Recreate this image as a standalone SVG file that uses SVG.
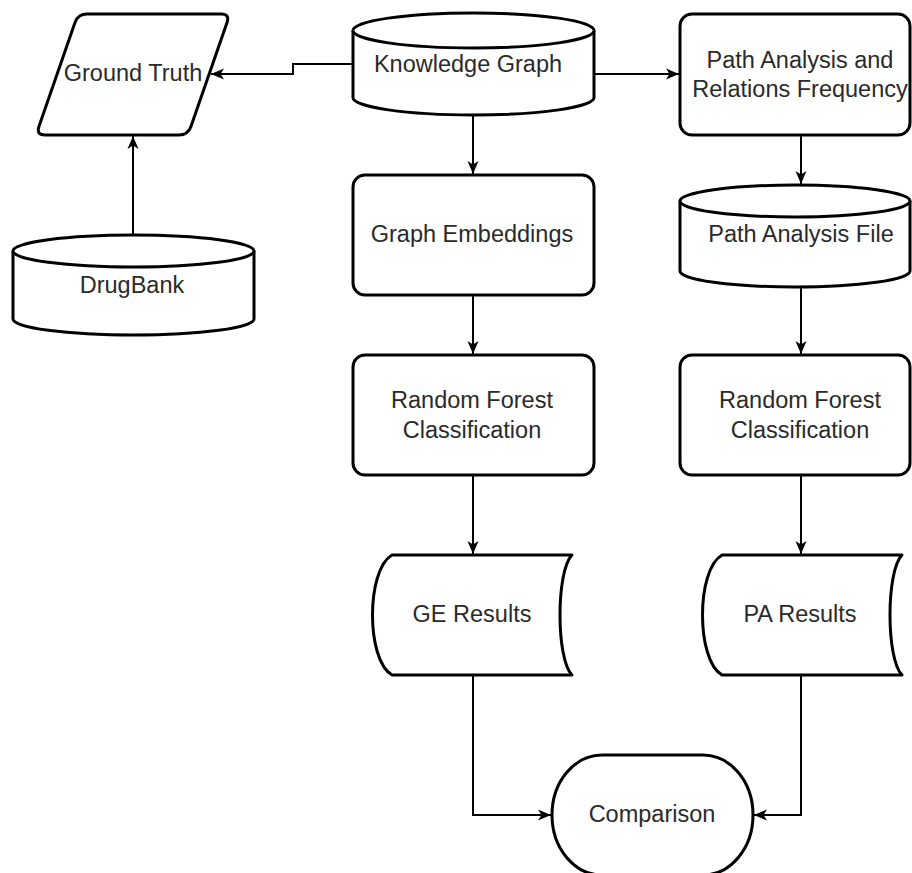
<svg xmlns="http://www.w3.org/2000/svg" width="912" height="873" viewBox="0 0 912 873">
<style>
.s{fill:#fff;stroke:#000;stroke-width:3;stroke-linejoin:round}
.c{fill:none;stroke:#000;stroke-width:2}
.t{font-family:"Liberation Sans",Arial,sans-serif;font-size:23.5px;fill:#2a2a2a;text-anchor:middle}
</style>
<defs>
<marker id="a" markerUnits="userSpaceOnUse" markerWidth="14" markerHeight="12" refX="13" refY="6" orient="auto">
<path d="M0,0.5 L13,6 L0,11.5 L3.5,6 Z" fill="#000"/>
</marker>
</defs>
<rect width="912" height="873" fill="#fff"/>
<g id="connectors">
<path class="c" d="M353,64 L293,64 L293,74 L211,74" marker-end="url(#a)"/>
<path class="c" d="M594,74 L679,74" marker-end="url(#a)"/>
<path class="c" d="M473,115 L473,174" marker-end="url(#a)"/>
<path class="c" d="M473,295 L473,354" marker-end="url(#a)"/>
<path class="c" d="M473,475 L473,554" marker-end="url(#a)"/>
<path class="c" d="M801,135 L801,184" marker-end="url(#a)"/>
<path class="c" d="M801,287 L801,354" marker-end="url(#a)"/>
<path class="c" d="M801,475 L801,554" marker-end="url(#a)"/>
<path class="c" d="M133,235 L133,136" marker-end="url(#a)"/>
<path class="c" d="M473,675 L473,815 L551,815" marker-end="url(#a)"/>
<path class="c" d="M801,675 L801,815 L754,815" marker-end="url(#a)"/>
</g>
<g id="ground-truth">
<path class="s" d="M87,14 L221,14 Q230,14 227.05,22.5 L190.95,126.5 Q188,135 179,135 L45,135 Q36,135 38.95,126.5 L75,22.5 Q78,14 87,14 Z"/>
<text class="t" x="133" y="81">Ground Truth</text>
</g>
<g id="knowledge-graph">
<path class="s" d="M353,30.5 A120.5,17.5 0 0 1 594,30.5 L594,97.5 A120.5,17.5 0 0 1 353,97.5 Z"/>
<path class="s" fill="none" d="M353,30.5 A120.5,17.5 0 0 0 594,30.5"/>
<text class="t" x="468" y="72">Knowledge Graph</text>
</g>
<g id="path-analysis">
<rect class="s" x="680" y="14" width="230" height="121" rx="12"/>
<text class="t" x="800" y="68">Path Analysis and</text>
<text class="t" x="800" y="97">Relations Frequency</text>
</g>
<g id="drugbank">
<path class="s" d="M13,251 A120.5,16 0 0 1 254,251 L254,319 A120.5,16 0 0 1 13,319 Z"/>
<path class="s" fill="none" d="M13,251 A120.5,16 0 0 0 254,251"/>
<text class="t" x="132" y="293">DrugBank</text>
</g>
<g id="graph-embeddings">
<rect class="s" x="353" y="175" width="241" height="120" rx="12"/>
<text class="t" x="472" y="242">Graph Embeddings</text>
</g>
<g id="path-analysis-file">
<path class="s" d="M680,201 A115,16 0 0 1 910,201 L910,271 A115,16 0 0 1 680,271 Z"/>
<path class="s" fill="none" d="M680,201 A115,16 0 0 0 910,201"/>
<text class="t" x="801" y="242">Path Analysis File</text>
</g>
<g id="rf-ge">
<rect class="s" x="353" y="355" width="241" height="120" rx="12"/>
<text class="t" x="472" y="408">Random Forest</text>
<text class="t" x="472" y="438">Classification</text>
</g>
<g id="rf-pa">
<rect class="s" x="680" y="355" width="230" height="120" rx="12"/>
<text class="t" x="800" y="408">Random Forest</text>
<text class="t" x="800" y="438">Classification</text>
</g>
<g id="ge-results">
<path class="s" d="M392,555 L572,555 C556,571 556,659 572,675 L392,675 C366,660 366,570 392,555 Z"/>
<text class="t" x="472" y="622">GE Results</text>
</g>
<g id="pa-results">
<path class="s" d="M722,555 L902,555 C886,571 886,659 902,675 L722,675 C696,660 696,570 722,555 Z"/>
<text class="t" x="800" y="622">PA Results</text>
</g>
<g id="comparison">
<rect class="s" x="552" y="755" width="201" height="120" rx="50" ry="60"/>
<text class="t" x="652" y="822">Comparison</text>
</g>
</svg>
